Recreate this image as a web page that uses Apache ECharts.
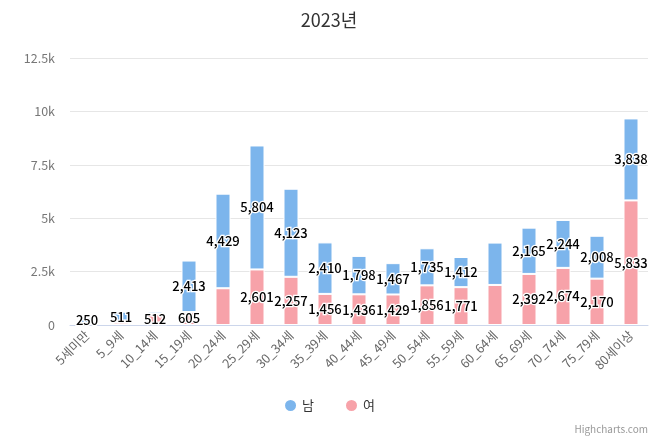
<!DOCTYPE html>
<html><head><meta charset="utf-8">
<script src="https://cdn.jsdelivr.net/npm/echarts@6/dist/echarts.min.js"></script>
<style>html,body{margin:0;padding:0;background:#fff}#c{width:658px;height:438px}</style>
</head><body><div id="c"></div>
<script>
const categories = ['5세미만','5_9세','10_14세','15_19세','20_24세','25_29세','30_34세','35_39세','40_44세','45_49세','50_54세','55_59세','60_64세','65_69세','70_74세','75_79세','80세이상'];
const male = [250, 511, 110, 2413, 4429, 5804, 4123, 2410, 1798, 1467, 1735, 1412, 1984, 2165, 2244, 2008, 3838];
const female = [100, 110, 512, 605, 1720, 2601, 2257, 1456, 1436, 1429, 1856, 1771, 1875, 2392, 2674, 2170, 5833];
const maleHiddenLabels = ['10_14세', '60_64세'];
const femaleHiddenLabels = ['5세미만', '5_9세', '20_24세', '60_64세'];
const yTicks = ['0', '2.5k', '5k', '7.5k', '10k', '12.5k'];

const font = '"Noto Sans CJK KR", "Noto Sans", sans-serif';
const fmt = v => v.toLocaleString('en-US');
function labelFmt(hidden) {
  return p => hidden.includes(p.name) ? '' : fmt(p.value);
}
const labelStyle = {
  show: true, position: 'inside', color: '#000', fontSize: 13, fontWeight: 500,
  fontFamily: font, textBorderColor: '#fff', textBorderWidth: 2.5
};

const chart = echarts.init(document.getElementById('c'), null, {renderer: 'canvas'});
chart.setOption({
  animation: false,
  title: {text: '2023년', left: 'center', top: 6, textStyle: {fontSize: 18, fontWeight: 'normal', color: '#333', fontFamily: font}},
  legend: {
    data: ['남', '여'], bottom: 20, left: 'center', icon: 'circle', itemWidth: 13, itemHeight: 13, itemGap: 30,
    textStyle: {fontSize: 13, color: '#333', fontFamily: font}
  },
  grid: {left: 70, right: 10, top: 58, bottom: 113},
  xAxis: {
    type: 'category', data: categories,
    axisLine: {lineStyle: {color: '#ccd6eb'}},
    axisTick: {show: false},
    axisLabel: {rotate: 45, fontSize: 12.5, color: '#666', fontFamily: font, margin: 8, interval: 0}
  },
  yAxis: {
    type: 'value', min: 0, max: 12500, interval: 2500,
    splitLine: {lineStyle: {color: '#e6e6e6'}},
    axisLabel: {fontSize: 12.5, color: '#777', fontFamily: font, margin: 15,
      formatter: v => yTicks[Math.round(v / 2500)]}
  },
  series: [
    {name: '여', type: 'bar', stack: 'total', data: female, barWidth: 15,
     itemStyle: {color: '#f7a2a9', borderColor: '#fff', borderWidth: 1},
     label: Object.assign({}, labelStyle, {formatter: labelFmt(femaleHiddenLabels)})},
    {name: '남', type: 'bar', stack: 'total', data: male, barWidth: 15,
     itemStyle: {color: '#7cb5ec', borderColor: '#fff', borderWidth: 1},
     label: Object.assign({}, labelStyle, {formatter: labelFmt(maleHiddenLabels)})}
  ],
  color: ['#f7a2a9', '#7cb5ec'],
  graphic: [{type: 'text', right: 10, bottom: 4, style: {text: 'Highcharts.com', fontSize: 10, fill: '#999', fontFamily: font}}]
});
</script></body></html>
